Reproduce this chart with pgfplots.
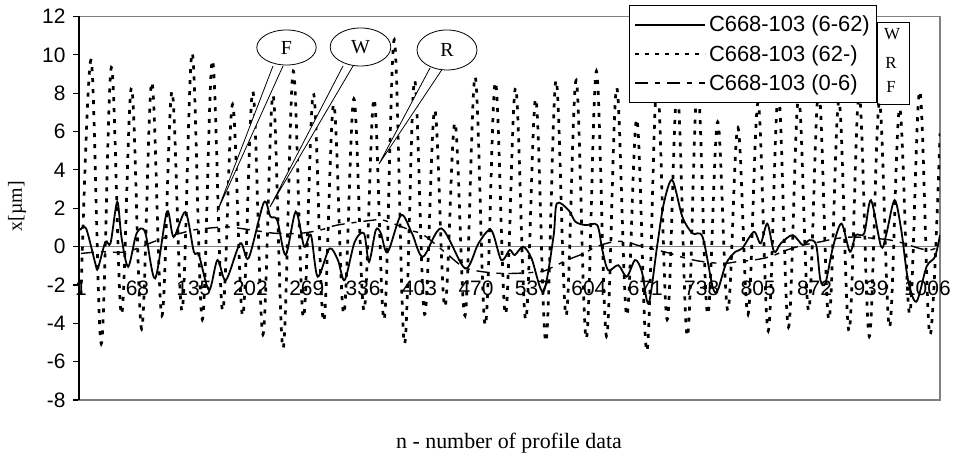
\documentclass[border=0pt]{standalone}
\usepackage{fontspec}
\setmainfont{Liberation Sans}
\newfontfamily\serif{Liberation Serif}
\usepackage{pgfplots}
\pgfplotsset{compat=1.18}
\usetikzlibrary{calc}

\begin{document}
\begin{tikzpicture}
\begin{axis}[
  name=ax, scale only axis, width=861bp, height=383.5bp,
  xmin=-1.4, xmax=1021, ymin=-8, ymax=12,
  axis line style={draw=gray, line width=1.6bp},
  ytick={-8,-6,...,12}, ytick pos=left, tick align=outside,
  major tick length=6bp, ytick style={black, line width=1.2bp},
  xtick={1,68,135,202,269,336,403,470,537,604,671,738,805,872,939,1006},
  xticklabels={1,68,135,202,269,336,403,470,537,604,671,738,805,872,939,1006},
  xtick pos=bottom, xtick style={draw=none},
  xticklabel style={anchor=center, yshift=117.3bp},
  yticklabel style={xshift=-4bp},
  ticklabel style={font=\fontsize{21}{21}\selectfont},
  /pgf/number format/assume math mode=true,
  legend style={at={(0.6388,1.0287)}, anchor=north west, draw=black,
    line width=1bp, fill=white, inner xsep=4bp, inner ysep=8bp,
    font=\fontsize{22}{22}\selectfont, row sep=8bp,
    nodes={inner xsep=3bp, inner ysep=2bp}},
  legend cell align=left,
  legend image code/.code={\draw[#1] (0bp,0bp) -- (70bp,0bp);},
]
\addlegendimage{black, solid, line width=2bp}
\addlegendentry{C668-103 (6-62)}
\addlegendimage{black, line width=2.5bp, dash pattern=on 4bp off 6bp}
\addlegendentry{C668-103 (62-)}
\addlegendimage{black, line width=2bp, dash pattern=on 13bp off 7bp on 5bp off 7bp}
\addlegendentry{C668-103 (0-6)}

% zero line
\addplot[gray, line width=1.6bp, forget plot] coordinates {(-1.4,0) (1021,0)};

% C668-103 (62-)
\addplot[black, line width=2.7bp, dash pattern=on 4bp off 7bp, smooth, tension=0.6, forget plot] coordinates {
(1,-2.5) (13,9.72) (25,-5.06) (37,9.34) (49,-3.53) (61,8.28) (73,-4.29) (85,8.57)
(97,-3.6) (109,8.09) (121,-3.33) (133,10.1) (145,-3.8) (157,9.72) (169,-3.33) (181,7.42)
(193,-3.6) (205,8.09) (217,-4.58) (229,7.9) (241,-5.3) (253,9.15) (265,-3.7) (277,7.99)
(289,-3.9) (301,7.42) (313,-3.5) (325,7.7) (337,-3.33) (349,7.7) (361,-3.8) (373,10.78)
(385,-5.06) (397,8.67) (409,-3.53) (421,7.13) (433,-3.14) (445,6.46) (457,-3.6) (469,8.86)
(481,-4.1) (493,8.57) (505,-3.53) (517,8.28) (529,-3.8) (541,7.7) (553,-4.96) (565,8.67)
(577,-3.6) (589,8.67) (601,-4.8) (613,9.15) (625,-4.68) (637,8.28) (649,-3.6) (661,6.65)
(673,-5.45) (685,8.67) (697,-3.8) (709,8.2) (721,-4.68) (733,8.5) (745,-3.53) (757,6.5)
(769,-3.33) (781,6.2) (793,-3.53) (805,7.5) (817,-4.4) (829,8.0) (841,-4.2) (853,7.8)
(865,-3.33) (877,8.2) (889,-3.8) (901,7.6) (913,-4.4) (925,8.0) (937,-4.68) (949,7.5)
(961,-4.2) (973,7.2) (985,-3.5) (997,8.1) (1009,-4.6) (1021,5.9)
};

% C668-103 (0-6)
\addplot[black, line width=1.4bp, dash pattern=on 13bp off 7bp on 5bp off 7bp, smooth, forget plot] coordinates {
(1,-0.36) (24,-0.27) (55,-0.27) (87,0.25) (103,0.5) (134,0.86) (150,0.95) (174,1.03)
(190,0.95) (218,0.77) (233,0.69) (261,0.69) (285,0.86) (305,1.12) (348,1.38) (360,1.38)
(392,0.86) (408,0.6) (435,-0.36) (459,-1.14) (500,-1.4) (546,-1.31) (562,-1.05) (578,-0.7)
(598,-0.36) (613,0) (633,0.25) (649,0.25) (661,0.08) (685,-0.18) (701,-0.36) (720,-0.62)
(740,-0.79) (764,-0.88) (780,-0.79) (800,-0.7) (819,-0.53) (839,-0.18) (859,0.08) (879,0.25)
(898,0.42) (918,0.5) (946,0.42) (962,0.34) (978,0.17) (997,-0.1) (1009,-0.18) (1021,0)
};

% C668-103 (6-62)
\addplot[black, line width=1.8bp, smooth, forget plot] coordinates {
(0,0.86) (7,0.95) (18,-0.88) (21,-1.14) (30,0.25) (36,0.17) (44,2.34) (49,0.5)
(57,-1.05) (67,0.69) (77,0.77) (89,-1.66) (103,1.82) (111,0.5) (125,1.8) (135,-0.27)
(141,-0.44) (153,-2.27) (163,-0.7) (173,-1.75) (190,0.17) (200,-0.6) (218,2.29) (226,1.56)
(234,1.38) (244,-0.44) (256,1.82) (266,0) (274,0.6) (282,-1.57) (296,-0.1) (306,-0.7)
(314,-1.75) (326,0.25) (337,0.69) (343,-0.8) (351,0.86) (357,0.7) (365,-0.3) (381,1.64)
(394,0.69) (407,-0.53) (429,0.95) (457,-1.14) (473,0.17) (488,0.86) (500,-0.7) (510,-0.18)
(516,-0.44) (526,0) (536,-0.62) (550,-2.36) (562,0.51) (566,2.25) (580,1.9) (588,1.3)
(600,1.12) (614,1.12) (620,-0.18) (627,-1.23) (639,-0.97) (649,-1.57) (659,-0.7) (667,-1.31)
(675,-2.97) (685,0) (693,2.25) (703,3.47) (715,1.56) (727,0.69) (739,0.51) (751,-2.1)
(757,-2.27) (767,-0.88) (778,-0.27) (786,-0.1) (800,0.77) (808,0.17) (816,1.2) (824,-0.27)
(832,0.17) (846,0.6) (858,0.08) (866,0.34) (874,0.08) (879,-1.75) (885,-1.9) (894,0)
(904,1.2) (914,-0.27) (921,0.6) (931,0.69) (939,2.42) (951,0) (957,0.6) (967,2.42)
(975,0.86) (983,-1.75) (993,-2.87) (1005,-1.05) (1015,-0.53) (1021,0.6)
};
\end{axis}
\draw[black, line width=1.6bp] (ax.south west) -- (ax.north west);
\begin{scope}[shift={($(ax.north west)+(-79bp,16.5bp)$)}, x=1bp, y=-1bp]
  % callouts
  \begin{scope}[line width=0.8bp]
    \filldraw[fill=white] (273,66) -- (217,212) -- (283,66);
    \filldraw[fill=white] (286.5,47.5) ellipse [x radius=29.7, y radius=17.5];
    \filldraw[fill=white] (343,66) -- (270,207) -- (353,66);
    \filldraw[fill=white] (360.5,47) ellipse [x radius=30.3, y radius=19];
    \filldraw[fill=white] (430,68) -- (379,164) -- (443,68);
    \filldraw[fill=white] (447,50) ellipse [x radius=30, y radius=20];
  \end{scope}
  \node[font=\serif\fontsize{20}{20}\selectfont] at (286.5,47.5) {F};
  \node[font=\serif\fontsize{20}{20}\selectfont] at (360.5,47) {W};
  \node[font=\serif\fontsize{20}{20}\selectfont] at (447,50) {R};
  % small box
  \draw[black, line width=1bp] (877,23) rectangle (909,105);
  \node[font=\serif\fontsize{17}{17}\selectfont] at (892,34) {W};
  \node[font=\serif\fontsize{17}{17}\selectfont] at (891,63) {R};
  \node[font=\serif\fontsize{17}{17}\selectfont] at (891,87) {F};
  % axis titles
  \node[font=\serif\fontsize{22}{22}\selectfont] at (509,443) {n - number of profile data};
  \node[rotate=90, font=\serif\fontsize{20}{20}\selectfont] at (17,206) {x[µm]};
  \pgfresetboundingbox
  \path[use as bounding box] (0,0) rectangle (955,456);
\end{scope}
\end{tikzpicture}
\end{document}
